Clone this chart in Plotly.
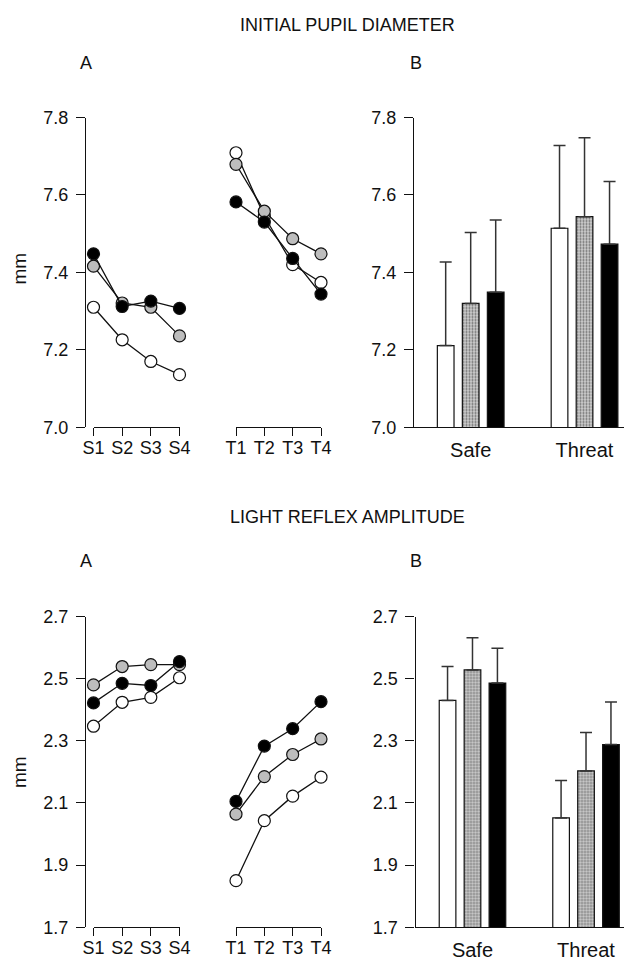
import plotly.graph_objects as go

# ---------------- data ----------------
safe_trials = ["S1", "S2", "S3", "S4"]
threat_trials = ["T1", "T2", "T3", "T4"]
conditions = ["Safe", "Threat"]
group_names = ["open", "shaded", "filled"]

# Initial pupil diameter (mm) – panel A
pupil_safe_open = [7.310, 7.226, 7.170, 7.136]
pupil_safe_shaded = [7.416, 7.321, 7.310, 7.236]
pupil_safe_filled = [7.448, 7.312, 7.326, 7.307]
pupil_threat_open = [7.709, 7.545, 7.420, 7.374]
pupil_threat_shaded = [7.679, 7.558, 7.487, 7.448]
pupil_threat_filled = [7.582, 7.530, 7.436, 7.344]

# Initial pupil diameter – panel B (means and upper error)
pupil_mean_open = [7.211, 7.514]
pupil_mean_shaded = [7.320, 7.544]
pupil_mean_filled = [7.349, 7.473]
pupil_err_open = [0.216, 0.214]
pupil_err_shaded = [0.183, 0.204]
pupil_err_filled = [0.186, 0.162]

# Light reflex amplitude (mm) – panel A
reflex_safe_open = [2.347, 2.424, 2.440, 2.503]
reflex_safe_shaded = [2.480, 2.539, 2.545, 2.545]
reflex_safe_filled = [2.422, 2.485, 2.478, 2.555]
reflex_threat_open = [1.850, 2.043, 2.122, 2.183]
reflex_threat_shaded = [2.064, 2.185, 2.256, 2.306]
reflex_threat_filled = [2.105, 2.283, 2.339, 2.426]

# Light reflex amplitude – panel B
reflex_mean_open = [2.430, 2.052]
reflex_mean_shaded = [2.528, 2.203]
reflex_mean_filled = [2.486, 2.288]
reflex_err_open = [0.109, 0.120]
reflex_err_shaded = [0.104, 0.124]
reflex_err_filled = [0.112, 0.137]

# ---------------- styles ----------------
FONT = "Liberation Sans, Arial, Helvetica, sans-serif"
INK = "#111111"
GREY = "#bdbdbd"
fills = {"open": "white", "shaded": GREY, "filled": "black"}

# the page body has an 8px margin, so the figure is drawn 8px in from the corner
OFF = 8
W, H = 632 - OFF, 961 - OFF
def px_x(p):
    return (p - OFF) / W
def px_y(p):
    return 1 - (p - OFF) / H

fig = go.Figure()

def add_lines(xname, yname, cats, series):
    for name, vals in zip(group_names, series):
        fig.add_trace(go.Scatter(
            x=cats, y=vals, xaxis=xname, yaxis=yname,
            mode="lines+markers", name=name, showlegend=False,
            cliponaxis=False,
            line=dict(color=INK, width=1.3),
            marker=dict(size=12, color=fills[name], line=dict(color=INK, width=1.2)),
        ))

def add_bars(xname, yname, means, errs):
    for name, m, e in zip(group_names, means, errs):
        marker = dict(color=fills[name], line=dict(color=INK, width=1.2))
        if name == "shaded":
            marker["pattern"] = dict(shape=".", fgcolor="#6a6a6a", bgcolor="#d0d0d0",
                                     size=3, solidity=0.4, fillmode="replace")
        fig.add_trace(go.Bar(
            x=conditions, y=m, xaxis=xname, yaxis=yname, name=name, showlegend=False,
            marker=marker,
            error_y=dict(type="data", array=e, arrayminus=[0] * len(e), symmetric=False,
                         color="#333333", thickness=1.5, width=6),
        ))

add_lines("x", "y", safe_trials, [pupil_safe_open, pupil_safe_shaded, pupil_safe_filled])
add_lines("x2", "y", threat_trials, [pupil_threat_open, pupil_threat_shaded, pupil_threat_filled])
add_bars("x3", "y2", [pupil_mean_open, pupil_mean_shaded, pupil_mean_filled],
         [pupil_err_open, pupil_err_shaded, pupil_err_filled])
add_lines("x4", "y3", safe_trials, [reflex_safe_open, reflex_safe_shaded, reflex_safe_filled])
add_lines("x5", "y3", threat_trials, [reflex_threat_open, reflex_threat_shaded, reflex_threat_filled])
add_bars("x6", "y4", [reflex_mean_open, reflex_mean_shaded, reflex_mean_filled],
         [reflex_err_open, reflex_err_shaded, reflex_err_filled])

tickfont = dict(family=FONT, size=18, color=INK)
top_dom = [px_y(427.3), px_y(117.5)]
bot_dom = [px_y(927.3), px_y(616.5)]

def cat_x(domain, anchor):
    return dict(domain=domain, anchor=anchor, type="category", range=[0, 3],
                showline=True, linecolor=INK, linewidth=1.2, ticks="outside",
                ticklen=8, tickwidth=1.2, tickcolor=INK, tickfont=tickfont,
                ticklabelstandoff=-4,
                showgrid=False, zeroline=False, fixedrange=True, automargin=False)

def bar_x(domain, anchor, rng):
    return dict(domain=domain, anchor=anchor, type="category", range=rng,
                showline=True, linecolor=INK, linewidth=1.2, ticks="",
                ticklabelstandoff=5, tickfont=dict(family=FONT, size=20, color=INK),
                showgrid=False, zeroline=False, fixedrange=True, automargin=False)

def val_y(domain, rng, tick0, **kw):
    d = dict(domain=domain, range=rng, tick0=tick0, dtick=0.2, tickformat=".1f",
             showline=True, linecolor=INK, linewidth=1.2, ticks="outside",
             ticklen=9, tickwidth=1.2, tickcolor=INK, tickfont=tickfont,
             ticklabelstandoff=4,
             showgrid=False, zeroline=False, fixedrange=True, automargin=False)
    d.update(kw)
    return d

S_dom = [px_x(93.5), px_x(179.5)]
T_dom = [px_x(236), px_x(321)]

fig.update_layout(
    width=W, height=H,
    margin=dict(l=0, r=0, t=0, b=0),
    paper_bgcolor="white", plot_bgcolor="rgba(0,0,0,0)",
    font=dict(family=FONT, color=INK),
    barmode="group", bargap=0.341, bargroupgap=0.333,
    xaxis=cat_x(S_dom, "y"),
    xaxis2=cat_x(T_dom, "y"),
    xaxis3=bar_x([px_x(414), 1.0], "y2", [-0.498, 1.417]),
    xaxis4=cat_x(S_dom, "y3"),
    xaxis5=cat_x(T_dom, "y3"),
    xaxis6=bar_x([px_x(415.5), 1.0], "y4", [-0.502, 1.405]),
    yaxis=val_y(top_dom, [7.0, 7.8], 7.0, anchor="free", position=px_x(85)),
    yaxis2=val_y(top_dom, [7.0, 7.8], 7.0, anchor="x3"),
    yaxis3=val_y(bot_dom, [1.7, 2.7], 1.7, anchor="free", position=px_x(85)),
    yaxis4=val_y(bot_dom, [1.7, 2.7], 1.7, anchor="x6"),
)

def note(text, x, y, size, angle=0):
    fig.add_annotation(text=text, x=x, y=y, xref="paper", yref="paper",
                       xanchor="center", yanchor="middle", showarrow=False,
                       textangle=angle, font=dict(family=FONT, size=size, color=INK))

note("INITIAL PUPIL DIAMETER", px_x(348), px_y(24.5), 18)
note("A", px_x(86), px_y(62.7), 18)
note("B", px_x(416), px_y(62.7), 18)
note("mm", px_x(19), px_y(268.5), 19, -90)
note("LIGHT REFLEX AMPLITUDE", px_x(348), px_y(517), 18)
note("A", px_x(86), px_y(560.7), 18)
note("B", px_x(416), px_y(560.7), 18)
note("mm", px_x(19), px_y(772), 19, -90)

fig.write_html("out.html")
